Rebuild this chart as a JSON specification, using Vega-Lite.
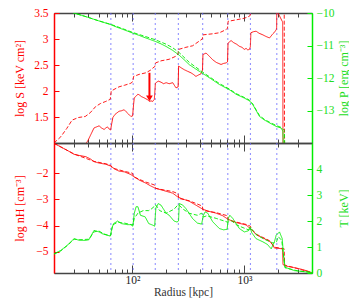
{
  "$schema": "https://vega.github.io/schema/vega-lite/v6.json",
  "padding": {"left": 13, "top": 7, "right": 2, "bottom": 0},
  "background": "white",
  "config": {
    "view": {"stroke": null},
    "font": "Liberation Serif",
    "axis": {"labelFont": "Liberation Serif", "titleFont": "Liberation Serif", "labelFontSize": 11.5, "titleFontSize": 12, "titleFontWeight": "normal", "grid": false, "labelOverlap": false}
  },
  "datasets": {
    "vlines": [{"r": 64.3}, {"r": 101.6}, {"r": 160}, {"r": 257}, {"r": 424}, {"r": 710}, {"r": 1129}, {"r": 1943}],
    "arrow": [{"r": 142, "v": 2.35, "v2": 1.86}],
    "top": [
      {"s":"S_d","r":20,"v":1.0},{"s":"S_d","r":23,"v":1.12},{"s":"S_d","r":26,"v":1.28},{"s":"S_d","r":29,"v":1.44},{"s":"S_d","r":33,"v":1.49},{"s":"S_d","r":38,"v":1.51},{"s":"S_d","r":42,"v":1.58},{"s":"S_d","r":47,"v":1.70},{"s":"S_d","r":52,"v":1.76},{"s":"S_d","r":58,"v":1.80},{"s":"S_d","r":63.5,"v":1.84},{"s":"S_d","r":64.8,"v":2.0},{"s":"S_d","r":70,"v":2.04},{"s":"S_d","r":76,"v":2.08},{"s":"S_d","r":85,"v":2.11},{"s":"S_d","r":97,"v":2.15},{"s":"S_d","r":100.8,"v":2.18},{"s":"S_d","r":102.5,"v":2.28},{"s":"S_d","r":115,"v":2.32},{"s":"S_d","r":132,"v":2.35},{"s":"S_d","r":145,"v":2.40},{"s":"S_d","r":152,"v":2.44},{"s":"S_d","r":158.5,"v":2.47},{"s":"S_d","r":161,"v":2.54},{"s":"S_d","r":180,"v":2.58},{"s":"S_d","r":213,"v":2.61},{"s":"S_d","r":245,"v":2.67},{"s":"S_d","r":255,"v":2.71},{"s":"S_d","r":258.5,"v":2.80},{"s":"S_d","r":300,"v":2.84},{"s":"S_d","r":345,"v":2.87},{"s":"S_d","r":395,"v":2.96},{"s":"S_d","r":420,"v":3.0},{"s":"S_d","r":427,"v":3.08},{"s":"S_d","r":520,"v":3.10},{"s":"S_d","r":597,"v":3.12},{"s":"S_d","r":685,"v":3.18},{"s":"S_d","r":706,"v":3.21},{"s":"S_d","r":714,"v":3.34},{"s":"S_d","r":850,"v":3.37},{"s":"S_d","r":1000,"v":3.40},{"s":"S_d","r":1110,"v":3.44},{"s":"S_d","r":1125,"v":3.46},{"s":"S_d","r":1135,"v":3.62},{"s":"S_d","r":2260,"v":3.65},{"s":"S_d","r":2275,"v":0.9},
      {"s":"S_s","r":36,"v":0.9},{"s":"S_s","r":40,"v":1.04},{"s":"S_s","r":43,"v":1.18},{"s":"S_s","r":45.5,"v":1.29},{"s":"S_s","r":48,"v":1.31},{"s":"S_s","r":50.5,"v":1.33},{"s":"S_s","r":53,"v":1.29},{"s":"S_s","r":56,"v":1.26},{"s":"S_s","r":58,"v":1.29},{"s":"S_s","r":60,"v":1.31},{"s":"S_s","r":62,"v":1.27},{"s":"S_s","r":64,"v":1.25},{"s":"S_s","r":65.5,"v":1.38},{"s":"S_s","r":67,"v":1.49},{"s":"S_s","r":70,"v":1.55},{"s":"S_s","r":73,"v":1.58},{"s":"S_s","r":76,"v":1.61},{"s":"S_s","r":80,"v":1.62},{"s":"S_s","r":84.5,"v":1.64},{"s":"S_s","r":88,"v":1.60},{"s":"S_s","r":92,"v":1.56},{"s":"S_s","r":97,"v":1.51},{"s":"S_s","r":100.5,"v":1.52},{"s":"S_s","r":102.5,"v":1.74},{"s":"S_s","r":104,"v":1.87},{"s":"S_s","r":108,"v":1.90},{"s":"S_s","r":112,"v":1.94},{"s":"S_s","r":116,"v":1.92},{"s":"S_s","r":121,"v":1.89},{"s":"S_s","r":127,"v":1.87},{"s":"S_s","r":132,"v":1.85},{"s":"S_s","r":137,"v":1.83},{"s":"S_s","r":142,"v":1.80},{"s":"S_s","r":147,"v":1.81},{"s":"S_s","r":152,"v":1.80},{"s":"S_s","r":157,"v":1.84},{"s":"S_s","r":160.5,"v":2.15},{"s":"S_s","r":170,"v":2.19},{"s":"S_s","r":180,"v":2.17},{"s":"S_s","r":190,"v":2.14},{"s":"S_s","r":200,"v":2.16},{"s":"S_s","r":213,"v":2.14},{"s":"S_s","r":229,"v":2.16},{"s":"S_s","r":245,"v":2.06},{"s":"S_s","r":256,"v":2.08},{"s":"S_s","r":258.5,"v":2.48},{"s":"S_s","r":275,"v":2.44},{"s":"S_s","r":290,"v":2.41},{"s":"S_s","r":310,"v":2.38},{"s":"S_s","r":333,"v":2.35},{"s":"S_s","r":350,"v":2.32},{"s":"S_s","r":369,"v":2.28},{"s":"S_s","r":390,"v":2.31},{"s":"S_s","r":409,"v":2.33},{"s":"S_s","r":422,"v":2.40},{"s":"S_s","r":426,"v":2.70},{"s":"S_s","r":454,"v":2.73},{"s":"S_s","r":480,"v":2.68},{"s":"S_s","r":521,"v":2.60},{"s":"S_s","r":560,"v":2.55},{"s":"S_s","r":618,"v":2.51},{"s":"S_s","r":650,"v":2.53},{"s":"S_s","r":685,"v":2.54},{"s":"S_s","r":706,"v":2.56},{"s":"S_s","r":713,"v":2.92},{"s":"S_s","r":759,"v":2.97},{"s":"S_s","r":800,"v":2.93},{"s":"S_s","r":850,"v":2.90},{"s":"S_s","r":900,"v":2.86},{"s":"S_s","r":950,"v":2.84},{"s":"S_s","r":997,"v":2.80},{"s":"S_s","r":1033,"v":2.82},{"s":"S_s","r":1070,"v":2.79},{"s":"S_s","r":1106,"v":2.80},{"s":"S_s","r":1128,"v":2.85},{"s":"S_s","r":1140,"v":3.12},{"s":"S_s","r":1200,"v":3.14},{"s":"S_s","r":1269,"v":3.15},{"s":"S_s","r":1350,"v":3.11},{"s":"S_s","r":1457,"v":3.08},{"s":"S_s","r":1550,"v":3.05},{"s":"S_s","r":1671,"v":3.02},{"s":"S_s","r":1730,"v":3.06},{"s":"S_s","r":1791,"v":3.10},{"s":"S_s","r":1850,"v":3.13},{"s":"S_s","r":1920,"v":3.18},{"s":"S_s","r":1935,"v":3.22},{"s":"S_s","r":1940,"v":3.55},{"s":"S_s","r":2170,"v":3.34},{"s":"S_s","r":2190,"v":3.33},{"s":"S_s","r":2205,"v":0.9},
      {"s":"P_s","r":20,"v":-9.82},{"s":"P_s","r":25,"v":-9.92},{"s":"P_s","r":30.2,"v":-10.0},{"s":"P_s","r":35,"v":-10.07},{"s":"P_s","r":40,"v":-10.13},{"s":"P_s","r":45,"v":-10.19},{"s":"P_s","r":50,"v":-10.24},{"s":"P_s","r":58,"v":-10.31},{"s":"P_s","r":64.3,"v":-10.36},{"s":"P_s","r":72,"v":-10.43},{"s":"P_s","r":81.7,"v":-10.50},{"s":"P_s","r":91,"v":-10.56},{"s":"P_s","r":101,"v":-10.62},{"s":"P_s","r":115,"v":-10.69},{"s":"P_s","r":130,"v":-10.76},{"s":"P_s","r":145,"v":-10.82},{"s":"P_s","r":162,"v":-10.88},{"s":"P_s","r":180,"v":-10.95},{"s":"P_s","r":200,"v":-11.03},{"s":"P_s","r":229,"v":-11.15},{"s":"P_s","r":262,"v":-11.30},{"s":"P_s","r":290,"v":-11.44},{"s":"P_s","r":322,"v":-11.59},{"s":"P_s","r":370,"v":-11.73},{"s":"P_s","r":424,"v":-11.86},{"s":"P_s","r":500,"v":-12.02},{"s":"P_s","r":597,"v":-12.2},{"s":"P_s","r":733,"v":-12.36},{"s":"P_s","r":842,"v":-12.50},{"s":"P_s","r":1000,"v":-12.62},{"s":"P_s","r":1106,"v":-12.70},{"s":"P_s","r":1186,"v":-12.82},{"s":"P_s","r":1270,"v":-13.0},{"s":"P_s","r":1359,"v":-13.18},{"s":"P_s","r":1500,"v":-13.29},{"s":"P_s","r":1671,"v":-13.38},{"s":"P_s","r":1916,"v":-13.49},{"s":"P_s","r":2124,"v":-13.54},{"s":"P_s","r":2199,"v":-13.64},{"s":"P_s","r":2230,"v":-14.2},
      {"s":"P_d","r":20,"v":-9.82},{"s":"P_d","r":30.2,"v":-10.0},{"s":"P_d","r":40,"v":-10.13},{"s":"P_d","r":50,"v":-10.24},{"s":"P_d","r":64.3,"v":-10.35},{"s":"P_d","r":81.7,"v":-10.48},{"s":"P_d","r":101,"v":-10.60},{"s":"P_d","r":130,"v":-10.72},{"s":"P_d","r":162,"v":-10.83},{"s":"P_d","r":200,"v":-10.96},{"s":"P_d","r":229,"v":-11.07},{"s":"P_d","r":262,"v":-11.22},{"s":"P_d","r":322,"v":-11.52},{"s":"P_d","r":424,"v":-11.82},{"s":"P_d","r":500,"v":-11.99},{"s":"P_d","r":597,"v":-12.17},{"s":"P_d","r":733,"v":-12.34},{"s":"P_d","r":842,"v":-12.48},{"s":"P_d","r":1000,"v":-12.60},{"s":"P_d","r":1106,"v":-12.68},{"s":"P_d","r":1186,"v":-12.80},{"s":"P_d","r":1270,"v":-12.98},{"s":"P_d","r":1359,"v":-13.15},{"s":"P_d","r":1500,"v":-13.27},{"s":"P_d","r":1671,"v":-13.36},{"s":"P_d","r":1916,"v":-13.46},{"s":"P_d","r":2124,"v":-13.52},{"s":"P_d","r":2270,"v":-13.62},{"s":"P_d","r":2290,"v":-14.2}
    ],
    "bottom": [
      {"s":"n_s","r":20,"v":-0.86},{"s":"n_s","r":23,"v":-1.0},{"s":"n_s","r":27,"v":-1.16},{"s":"n_s","r":30.2,"v":-1.28},{"s":"n_s","r":34,"v":-1.33},{"s":"n_s","r":38.4,"v":-1.37},{"s":"n_s","r":42,"v":-1.45},{"s":"n_s","r":45.5,"v":-1.56},{"s":"n_s","r":50,"v":-1.61},{"s":"n_s","r":58,"v":-1.66},{"s":"n_s","r":64.3,"v":-1.73},{"s":"n_s","r":70,"v":-1.85},{"s":"n_s","r":76,"v":-1.92},{"s":"n_s","r":85,"v":-1.95},{"s":"n_s","r":97,"v":-2.05},{"s":"n_s","r":102,"v":-2.12},{"s":"n_s","r":115,"v":-2.26},{"s":"n_s","r":132,"v":-2.38},{"s":"n_s","r":145,"v":-2.48},{"s":"n_s","r":160,"v":-2.57},{"s":"n_s","r":190,"v":-2.66},{"s":"n_s","r":229,"v":-2.76},{"s":"n_s","r":257,"v":-2.92},{"s":"n_s","r":290,"v":-3.0},{"s":"n_s","r":322,"v":-3.07},{"s":"n_s","r":370,"v":-3.22},{"s":"n_s","r":424,"v":-3.37},{"s":"n_s","r":480,"v":-3.45},{"s":"n_s","r":557,"v":-3.52},{"s":"n_s","r":640,"v":-3.62},{"s":"n_s","r":710,"v":-3.75},{"s":"n_s","r":842,"v":-3.88},{"s":"n_s","r":1033,"v":-3.97},{"s":"n_s","r":1106,"v":-4.08},{"s":"n_s","r":1190,"v":-4.2},{"s":"n_s","r":1269,"v":-4.34},{"s":"n_s","r":1450,"v":-4.46},{"s":"n_s","r":1671,"v":-4.59},{"s":"n_s","r":1780,"v":-4.72},{"s":"n_s","r":1851,"v":-4.85},{"s":"n_s","r":2000,"v":-4.86},{"s":"n_s","r":2180,"v":-4.88},{"s":"n_s","r":2205,"v":-5.48},{"s":"n_s","r":2355,"v":-5.54},{"s":"n_s","r":2600,"v":-5.57},{"s":"n_s","r":2893,"v":-5.61},{"s":"n_s","r":3300,"v":-5.67},{"s":"n_s","r":3679,"v":-5.73},{"s":"n_s","r":4000,"v":-5.80},
      {"s":"n_d","r":20,"v":-0.86},{"s":"n_d","r":30.2,"v":-1.27},{"s":"n_d","r":45.5,"v":-1.55},{"s":"n_d","r":58,"v":-1.64},{"s":"n_d","r":64.3,"v":-1.70},{"s":"n_d","r":66,"v":-1.80},{"s":"n_d","r":85,"v":-1.93},{"s":"n_d","r":100,"v":-2.0},{"s":"n_d","r":103,"v":-2.14},{"s":"n_d","r":130,"v":-2.33},{"s":"n_d","r":158,"v":-2.45},{"s":"n_d","r":162,"v":-2.58},{"s":"n_d","r":229,"v":-2.70},{"s":"n_d","r":255,"v":-2.78},{"s":"n_d","r":260,"v":-2.96},{"s":"n_d","r":322,"v":-3.05},{"s":"n_d","r":420,"v":-3.25},{"s":"n_d","r":428,"v":-3.42},{"s":"n_d","r":557,"v":-3.50},{"s":"n_d","r":705,"v":-3.62},{"s":"n_d","r":716,"v":-3.78},{"s":"n_d","r":842,"v":-3.86},{"s":"n_d","r":1033,"v":-3.95},{"s":"n_d","r":1130,"v":-4.02},{"s":"n_d","r":1150,"v":-4.12},{"s":"n_d","r":1269,"v":-4.32},{"s":"n_d","r":1671,"v":-4.57},{"s":"n_d","r":1851,"v":-4.82},{"s":"n_d","r":2000,"v":-4.84},{"s":"n_d","r":2260,"v":-4.88},{"s":"n_d","r":2280,"v":-5.50},{"s":"n_d","r":2893,"v":-5.62},{"s":"n_d","r":4000,"v":-5.79},
      {"s":"T_s","r":20,"v":0.74},{"s":"T_s","r":23,"v":0.87},{"s":"T_s","r":26,"v":1.05},{"s":"T_s","r":30.2,"v":1.32},{"s":"T_s","r":33.4,"v":1.26},{"s":"T_s","r":38,"v":1.25},{"s":"T_s","r":41,"v":1.28},{"s":"T_s","r":45.5,"v":1.64},{"s":"T_s","r":50.5,"v":1.58},{"s":"T_s","r":54,"v":1.51},{"s":"T_s","r":60,"v":1.45},{"s":"T_s","r":63.5,"v":1.42},{"s":"T_s","r":65.5,"v":1.70},{"s":"T_s","r":68,"v":1.90},{"s":"T_s","r":74,"v":2.0},{"s":"T_s","r":80,"v":1.90},{"s":"T_s","r":90,"v":1.86},{"s":"T_s","r":97,"v":1.86},{"s":"T_s","r":101,"v":1.80},{"s":"T_s","r":104,"v":2.30},{"s":"T_s","r":108,"v":2.55},{"s":"T_s","r":112,"v":2.55},{"s":"T_s","r":118,"v":2.22},{"s":"T_s","r":130,"v":2.16},{"s":"T_s","r":140,"v":1.90},{"s":"T_s","r":152,"v":1.84},{"s":"T_s","r":158,"v":1.80},{"s":"T_s","r":162,"v":2.50},{"s":"T_s","r":170,"v":2.67},{"s":"T_s","r":180,"v":2.61},{"s":"T_s","r":200,"v":2.30},{"s":"T_s","r":213,"v":2.22},{"s":"T_s","r":235,"v":2.00},{"s":"T_s","r":250,"v":1.96},{"s":"T_s","r":258,"v":2.0},{"s":"T_s","r":262,"v":2.67},{"s":"T_s","r":280,"v":2.62},{"s":"T_s","r":300,"v":2.48},{"s":"T_s","r":345,"v":2.09},{"s":"T_s","r":380,"v":1.92},{"s":"T_s","r":415,"v":1.88},{"s":"T_s","r":428,"v":2.20},{"s":"T_s","r":445,"v":2.35},{"s":"T_s","r":470,"v":2.30},{"s":"T_s","r":521,"v":1.97},{"s":"T_s","r":597,"v":1.71},{"s":"T_s","r":650,"v":1.66},{"s":"T_s","r":700,"v":1.68},{"s":"T_s","r":716,"v":2.10},{"s":"T_s","r":740,"v":2.22},{"s":"T_s","r":786,"v":2.10},{"s":"T_s","r":900,"v":1.71},{"s":"T_s","r":997,"v":1.58},{"s":"T_s","r":1080,"v":1.62},{"s":"T_s","r":1120,"v":1.77},{"s":"T_s","r":1160,"v":1.55},{"s":"T_s","r":1269,"v":1.32},{"s":"T_s","r":1457,"v":1.2},{"s":"T_s","r":1600,"v":1.10},{"s":"T_s","r":1730,"v":0.93},{"s":"T_s","r":1850,"v":1.2},{"s":"T_s","r":1916,"v":1.45},{"s":"T_s","r":2051,"v":1.58},{"s":"T_s","r":2170,"v":1.32},{"s":"T_s","r":2230,"v":0.67},{"s":"T_s","r":2300,"v":0.22},{"s":"T_s","r":2795,"v":0.09},{"s":"T_s","r":3400,"v":0.05},{"s":"T_s","r":4000,"v":0.02},
      {"s":"T_d","r":20,"v":0.72},{"s":"T_d","r":23,"v":0.85},{"s":"T_d","r":27,"v":1.1},{"s":"T_d","r":30.2,"v":1.30},{"s":"T_d","r":34,"v":1.28},{"s":"T_d","r":41,"v":1.30},{"s":"T_d","r":45.5,"v":1.58},{"s":"T_d","r":50,"v":1.62},{"s":"T_d","r":56,"v":1.5},{"s":"T_d","r":62,"v":1.44},{"s":"T_d","r":64.3,"v":1.45},{"s":"T_d","r":66.6,"v":1.85},{"s":"T_d","r":74,"v":1.95},{"s":"T_d","r":85,"v":1.92},{"s":"T_d","r":97,"v":1.86},{"s":"T_d","r":101,"v":1.85},{"s":"T_d","r":104,"v":2.1},{"s":"T_d","r":112,"v":2.3},{"s":"T_d","r":125,"v":2.4},{"s":"T_d","r":140,"v":2.4},{"s":"T_d","r":152,"v":2.5},{"s":"T_d","r":159,"v":2.62},{"s":"T_d","r":163,"v":2.6},{"s":"T_d","r":175,"v":2.4},{"s":"T_d","r":200,"v":2.3},{"s":"T_d","r":235,"v":2.45},{"s":"T_d","r":255,"v":2.62},{"s":"T_d","r":262,"v":2.6},{"s":"T_d","r":285,"v":2.45},{"s":"T_d","r":320,"v":2.3},{"s":"T_d","r":380,"v":2.22},{"s":"T_d","r":415,"v":2.3},{"s":"T_d","r":428,"v":2.15},{"s":"T_d","r":460,"v":2.2},{"s":"T_d","r":560,"v":2.1},{"s":"T_d","r":680,"v":1.98},{"s":"T_d","r":710,"v":1.95},{"s":"T_d","r":760,"v":2.02},{"s":"T_d","r":850,"v":1.85},{"s":"T_d","r":1000,"v":1.72},{"s":"T_d","r":1100,"v":1.65},{"s":"T_d","r":1140,"v":1.72},{"s":"T_d","r":1300,"v":1.45},{"s":"T_d","r":1500,"v":1.3},{"s":"T_d","r":1800,"v":1.15},{"s":"T_d","r":1930,"v":1.2},{"s":"T_d","r":2000,"v":1.4},{"s":"T_d","r":2150,"v":1.25},{"s":"T_d","r":2250,"v":0.5},{"s":"T_d","r":2300,"v":0.2},{"s":"T_d","r":3000,"v":0.08},{"s":"T_d","r":4000,"v":0.02}
    ]
  },
  "spacing": 0,
  "bounds": "flush",
  "vconcat": [
    {
      "width": 258,
      "height": 130,
      "layer": [
        {
          "data": {"name": "vlines"},
          "mark": {"type": "rule", "color": "#6a6aff", "strokeDash": [2, 3], "strokeWidth": 1, "opacity": 0.8},
          "encoding": {
            "x": {"field": "r", "type": "quantitative", "scale": {"type": "log", "domain": [20, 4000], "nice": false},
              "axis": {"orient": "bottom", "title": null, "labels": false, "values": [20,30,40,50,60,70,80,90,100,200,300,400,500,600,700,800,900,1000,2000,3000,4000],
                "tickSize": {"condition": {"test": "datum.value == 100 || datum.value == 1000", "value": -8}, "value": -4},
                "domainColor": "#444", "tickColor": "#444", "domainWidth": 1.5}}
          }
        },
        {
          "data": {"name": "top"},
          "transform": [{"filter": "datum.s == 'S_s' || datum.s == 'S_d'"}],
          "mark": {"type": "line", "color": "#ff0000", "clip": true, "strokeWidth": 0.9},
          "encoding": {
            "x": {"field": "r", "type": "quantitative", "scale": {"type": "log", "domain": [20, 4000], "nice": false},
              "axis": {"orient": "top", "title": null, "labels": false, "values": [20,30,40,50,60,70,80,90,100,200,300,400,500,600,700,800,900,1000,2000,3000,4000],
                "tickSize": {"condition": {"test": "datum.value == 100 || datum.value == 1000", "value": -8}, "value": -4},
                "domainColor": "#444", "tickColor": "#444", "domainWidth": 1.5}},
            "y": {"field": "v", "type": "quantitative", "scale": {"domain": [1, 3.5], "nice": false, "zero": false},
              "axis": {"orient": "left", "title": "log S [keV cm²]", "values": [1.5, 2, 2.5, 3, 3.5], "format": ".2~f", "labelOverlap": false,
                "domainColor": "#ff0000", "tickColor": "#ff0000", "labelColor": "#ff0000", "titleColor": "#ff0000", "domainWidth": 1.5,
                "tickSize": -5, "labelPadding": 11, "minExtent": 22, "maxExtent": 22, "titlePadding": 6, "titleY": 65, "titleAlign": "center"}},
            "strokeDash": {"field": "s", "type": "nominal", "legend": null,
              "scale": {"domain": ["S_s", "S_d", "P_s", "P_d", "n_s", "n_d", "T_s", "T_d"], "range": [[1, 0], [4, 2], [1, 0], [4, 2], [1, 0], [4, 2], [1, 0], [4, 2]]}}
          }
        },
        {
          "data": {"name": "top"},
          "transform": [{"filter": "datum.s == 'P_s' || datum.s == 'P_d'"}],
          "mark": {"type": "line", "color": "#00ee00", "clip": true, "strokeWidth": 0.9},
          "encoding": {
            "x": {"field": "r", "type": "quantitative", "scale": {"type": "log", "domain": [20, 4000], "nice": false}, "axis": null},
            "y": {"field": "v", "type": "quantitative", "scale": {"domain": [-14, -10], "nice": false, "zero": false},
              "axis": {"orient": "right", "title": "log P [erg cm⁻³]", "values": [-13, -12, -11, -10], "labelOverlap": false,
                "domainColor": "#00ee00", "tickColor": "#00ee00", "labelColor": "#22dd22", "titleColor": "#22dd22", "domainWidth": 1.5,
                "tickSize": -5, "labelPadding": 9, "minExtent": 22, "maxExtent": 22, "titlePadding": 4, "titleAngle": -90, "titleBaseline": "top"}},
            "strokeDash": {"field": "s", "type": "nominal", "legend": null,
              "scale": {"domain": ["S_s", "S_d", "P_s", "P_d", "n_s", "n_d", "T_s", "T_d"], "range": [[1, 0], [4, 2], [1, 0], [4, 2], [1, 0], [4, 2], [1, 0], [4, 2]]}}
          }
        },
        {
          "data": {"name": "arrow"},
          "mark": {"type": "rule", "color": "#ff0000", "strokeWidth": 2},
          "encoding": {
            "x": {"field": "r", "type": "quantitative", "scale": {"type": "log", "domain": [20, 4000], "nice": false}, "axis": null},
            "y": {"field": "v", "type": "quantitative", "scale": {"domain": [1, 3.5], "nice": false, "zero": false}, "axis": null},
            "y2": {"field": "v2"}
          }
        },
        {
          "data": {"name": "arrow"},
          "mark": {"type": "point", "shape": "triangle-down", "filled": true, "color": "#ff0000", "size": 45, "opacity": 1},
          "encoding": {
            "x": {"field": "r", "type": "quantitative", "scale": {"type": "log", "domain": [20, 4000], "nice": false}, "axis": null},
            "y": {"field": "v2", "type": "quantitative", "scale": {"domain": [1, 3.5], "nice": false, "zero": false}, "axis": null}
          }
        }
      ],
      "resolve": {"scale": {"y": "independent"}, "axis": {"x": "independent", "y": "independent"}}
    },
    {
      "width": 258,
      "height": 130,
      "layer": [
        {
          "data": {"name": "vlines"},
          "mark": {"type": "rule", "color": "#6a6aff", "strokeDash": [2, 3], "strokeWidth": 1, "opacity": 0.8},
          "encoding": {
            "x": {"field": "r", "type": "quantitative", "scale": {"type": "log", "domain": [20, 4000], "nice": false},
              "axis": {"orient": "bottom", "title": "Radius [kpc]", "values": [20,30,40,50,60,70,80,90,100,200,300,400,500,600,700,800,900,1000,2000,3000,4000],
                "labelExpr": "datum.value == 100 ? '10²' : datum.value == 1000 ? '10³' : ''",
                "tickSize": {"condition": {"test": "datum.value == 100 || datum.value == 1000", "value": -8}, "value": -4},
                "labelPadding": 9, "titlePadding": -3, "labelColor": "#222", "titleColor": "#333", "titleFontSize": 11.5,
                "domainColor": "#444", "tickColor": "#444", "domainWidth": 1.5}}
          }
        },
        {
          "data": {"name": "bottom"},
          "transform": [{"filter": "datum.s == 'n_s' || datum.s == 'n_d'"}],
          "mark": {"type": "line", "color": "#ff0000", "clip": true, "strokeWidth": 0.9},
          "encoding": {
            "x": {"field": "r", "type": "quantitative", "scale": {"type": "log", "domain": [20, 4000], "nice": false},
              "axis": {"orient": "top", "title": null, "labels": false, "values": [20,30,40,50,60,70,80,90,100,200,300,400,500,600,700,800,900,1000,2000,3000,4000],
                "tickSize": {"condition": {"test": "datum.value == 100 || datum.value == 1000", "value": -8}, "value": -4},
                "domainColor": "#444", "tickColor": "#444", "domainWidth": 1.5}},
            "y": {"field": "v", "type": "quantitative", "scale": {"domain": [-5.8, -0.85], "nice": false, "zero": false},
              "axis": {"orient": "left", "title": "log nH [cm⁻³]", "values": [-5, -4, -3, -2], "labelOverlap": false,
                "domainColor": "#ff0000", "tickColor": "#ff0000", "labelColor": "#ff0000", "titleColor": "#ff0000", "domainWidth": 1.5,
                "tickSize": -5, "labelPadding": 11, "minExtent": 22, "maxExtent": 22, "titlePadding": 6}},
            "strokeDash": {"field": "s", "type": "nominal", "legend": null,
              "scale": {"domain": ["S_s", "S_d", "P_s", "P_d", "n_s", "n_d", "T_s", "T_d"], "range": [[1, 0], [4, 2], [1, 0], [4, 2], [1, 0], [4, 2], [1, 0], [4, 2]]}}
          }
        },
        {
          "data": {"name": "bottom"},
          "transform": [{"filter": "datum.s == 'T_s' || datum.s == 'T_d'"}],
          "mark": {"type": "line", "color": "#00ee00", "clip": true, "strokeWidth": 0.9},
          "encoding": {
            "x": {"field": "r", "type": "quantitative", "scale": {"type": "log", "domain": [20, 4000], "nice": false}, "axis": null},
            "y": {"field": "v", "type": "quantitative", "scale": {"domain": [0, 5], "nice": false},
              "axis": {"orient": "right", "title": "T [keV]", "values": [0, 1, 2, 3, 4], "labelOverlap": false,
                "domainColor": "#00ee00", "tickColor": "#00ee00", "labelColor": "#22dd22", "titleColor": "#22dd22", "domainWidth": 1.5,
                "tickSize": -5, "labelPadding": 9, "minExtent": 22, "maxExtent": 22, "titlePadding": 4, "titleAngle": -90, "titleBaseline": "top"}},
            "strokeDash": {"field": "s", "type": "nominal", "legend": null,
              "scale": {"domain": ["S_s", "S_d", "P_s", "P_d", "n_s", "n_d", "T_s", "T_d"], "range": [[1, 0], [4, 2], [1, 0], [4, 2], [1, 0], [4, 2], [1, 0], [4, 2]]}}
          }
        }
      ],
      "resolve": {"scale": {"y": "independent"}, "axis": {"x": "independent"}}
    }
  ]
}
